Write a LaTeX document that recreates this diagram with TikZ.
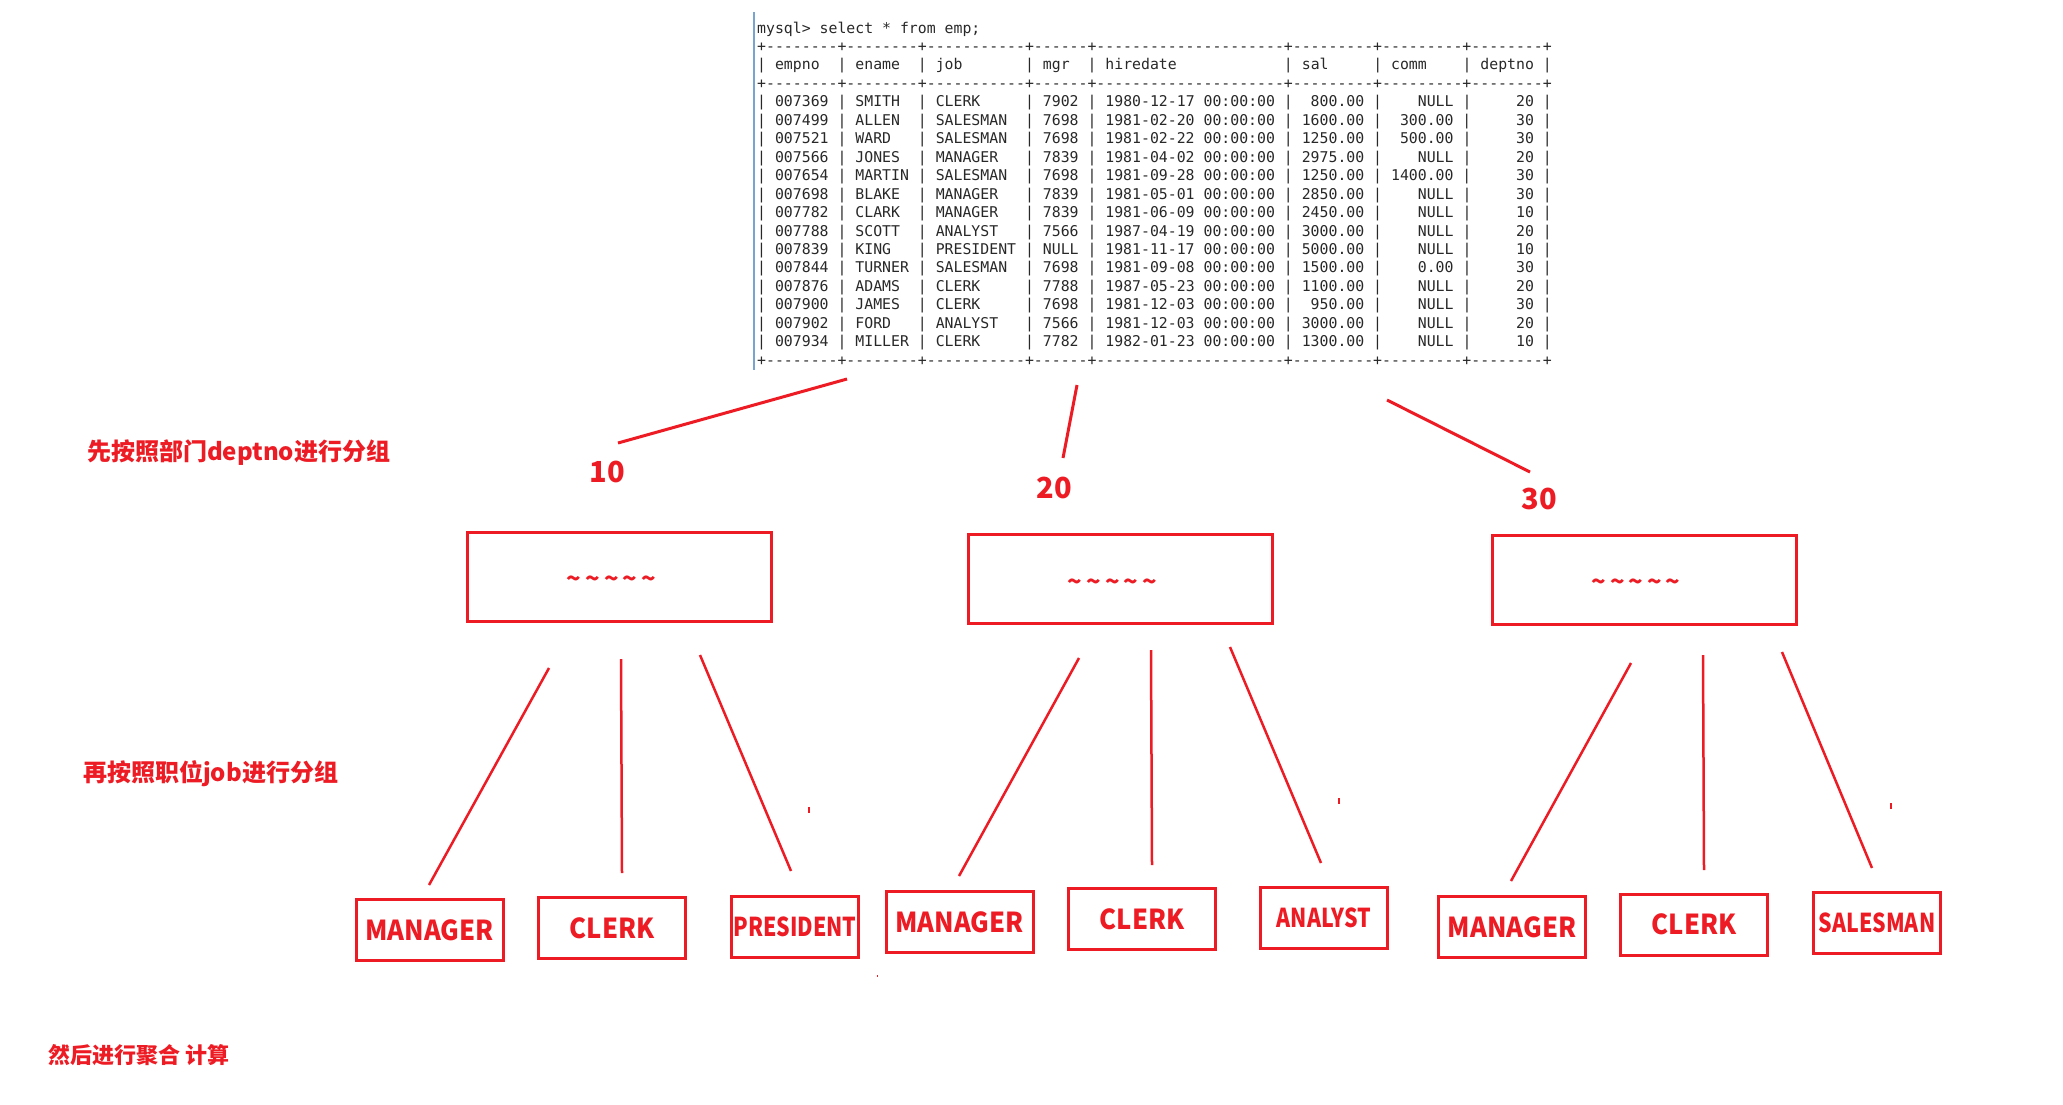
\documentclass[tikz,border=0pt]{standalone}
\usepackage{fontspec}
\setmonofont{DejaVu Sans Mono}
\newfontfamily\cjk{Noto Sans CJK SC}
\newfontfamily\jobfont{Noto Sans CJK SC}[FakeStretch=0.93]
\newfontfamily\jobnarrow{Noto Sans CJK SC}[FakeStretch=0.82]
\definecolor{gred}{RGB}{237,28,36}
\definecolor{tblue}{RGB}{120,165,205}
\definecolor{tgray}{RGB}{40,40,40}

% the query output, spaces kept as typed
\begingroup
\obeyspaces%
\gdef\sqlspace{\def {\ }}%
\gdef\emptable{%
mysql> select * from emp;\\%
+--------+--------+-----------+------+---------------------+---------+---------+--------+\\%
| empno  | ename  | job       | mgr  | hiredate            | sal     | comm    | deptno |\\%
+--------+--------+-----------+------+---------------------+---------+---------+--------+\\%
| 007369 | SMITH  | CLERK     | 7902 | 1980-12-17 00:00:00 |  800.00 |    NULL |     20 |\\%
| 007499 | ALLEN  | SALESMAN  | 7698 | 1981-02-20 00:00:00 | 1600.00 |  300.00 |     30 |\\%
| 007521 | WARD   | SALESMAN  | 7698 | 1981-02-22 00:00:00 | 1250.00 |  500.00 |     30 |\\%
| 007566 | JONES  | MANAGER   | 7839 | 1981-04-02 00:00:00 | 2975.00 |    NULL |     20 |\\%
| 007654 | MARTIN | SALESMAN  | 7698 | 1981-09-28 00:00:00 | 1250.00 | 1400.00 |     30 |\\%
| 007698 | BLAKE  | MANAGER   | 7839 | 1981-05-01 00:00:00 | 2850.00 |    NULL |     30 |\\%
| 007782 | CLARK  | MANAGER   | 7839 | 1981-06-09 00:00:00 | 2450.00 |    NULL |     10 |\\%
| 007788 | SCOTT  | ANALYST   | 7566 | 1987-04-19 00:00:00 | 3000.00 |    NULL |     20 |\\%
| 007839 | KING   | PRESIDENT | NULL | 1981-11-17 00:00:00 | 5000.00 |    NULL |     10 |\\%
| 007844 | TURNER | SALESMAN  | 7698 | 1981-09-08 00:00:00 | 1500.00 |    0.00 |     30 |\\%
| 007876 | ADAMS  | CLERK     | 7788 | 1987-05-23 00:00:00 | 1100.00 |    NULL |     20 |\\%
| 007900 | JAMES  | CLERK     | 7698 | 1981-12-03 00:00:00 |  950.00 |    NULL |     30 |\\%
| 007902 | FORD   | ANALYST   | 7566 | 1981-12-03 00:00:00 | 3000.00 |    NULL |     20 |\\%
| 007934 | MILLER | CLERK     | 7782 | 1982-01-23 00:00:00 | 1300.00 |    NULL |     10 |\\%
+--------+--------+-----------+------+---------------------+---------+---------+--------+%
}%
\endgroup

\newcommand\tildes{\raisebox{-11pt}[0pt][0pt]{\textasciitilde\kern4pt\textasciitilde\kern4pt\textasciitilde\kern4pt\textasciitilde\kern4pt\textasciitilde\kern16pt}}

\tikzset{
  sql text/.style={anchor=base west,inner sep=0pt,text=tgray,font=\ttfamily\fontsize{14.83}{18.46}\selectfont},
  dept edge/.style={gred,line width=3pt},
  job edge/.style={gred,line width=2.5pt},
  dept box/.style={draw=gred,line width=3pt,minimum width=304pt,minimum height=89pt,inner sep=0pt,text=gred,font=\cjk\bfseries\fontsize{24}{24}\selectfont},
  job box/.style={draw=gred,line width=3pt,minimum width=#1,minimum height=61pt,inner sep=0pt,text=gred,font=\jobfont\bfseries\fontsize{27.5}{27.5}\selectfont},
  job box/.default=147pt,
  narrow box/.style={job box=127pt,font=\jobnarrow\bfseries\fontsize{26}{26}\selectfont},
  num label/.style={anchor=base,inner sep=0pt,text=gred,font=\cjk\bfseries\fontsize{29}{29}\selectfont},
  step label/.style={anchor=base west,inner sep=0pt,text=gred,font=\cjk\bfseries\fontsize{24}{24}\selectfont},
}

\begin{document}
\begin{tikzpicture}[x=1pt,y=-1pt]
  \useasboundingbox (0,0) rectangle (2063,1104);
  % select * from emp
  \node[sql text] (emp) at (757,33) {\sqlspace\frenchspacing\begin{tabular}[t]{@{}l@{}}\emptable\end{tabular}};
  \draw[tblue,line width=1.5pt] (754,12) -- (754,370);
  % steps
  \node[step label] (step1) at (87,460) {先按照部门deptno进行分组};
  \node[step label] (step2) at (83,781) {再按照职位job进行分组};
  \node[step label,font=\cjk\bfseries\fontsize{22}{22}\selectfont] (step3) at (48,1063) {然后进行聚合 计算};
  % deptno groups
  \node[num label] (n10) at (607,482) {10};
  \node[num label] (n20) at (1054,498) {20};
  \node[num label] (n30) at (1539,509) {30};
  \node[dept box] (d10) at (619.5,576.5) {\tildes};
  \node[dept box] (d20) at (1120.5,579) {\tildes};
  \node[dept box] (d30) at (1644,579.5) {\tildes};
  \coordinate (t10) at (847,379);
  \coordinate (b10) at (618,443);
  \coordinate (t20) at (1077,385);
  \coordinate (b20) at (1063,458);
  \coordinate (t30) at (1387,400);
  \coordinate (b30) at (1530,472);
  \draw[dept edge] (t10)--(b10);
  \draw[dept edge] (t20)--(b20);
  \draw[dept edge] (t30)--(b30);
  % job groups
  \node[job box] (j10a) at (429.5,930) {MANAGER};
  \node[job box] (j10b) at (612,928) {CLERK};
  \node[narrow box] (j10c) at (795,926.5) {PRESIDENT};
  \node[job box] (j20a) at (959.5,922) {MANAGER};
  \node[job box] (j20b) at (1142,919) {CLERK};
  \node[narrow box] (j20c) at (1324,918) {ANALYST};
  \node[job box] (j30a) at (1512,927) {MANAGER};
  \node[job box] (j30b) at (1694,924.5) {CLERK};
  \node[narrow box] (j30c) at (1877,923) {SALESMAN};
  \coordinate (t10a) at (549,668);
  \coordinate (b10a) at (429,885);
  \coordinate (t10b) at (621,659);
  \coordinate (b10b) at (622,873);
  \coordinate (t10c) at (700,655);
  \coordinate (b10c) at (791,871);
  \coordinate (t20a) at (1079,658);
  \coordinate (b20a) at (959,876);
  \coordinate (t20b) at (1151,650);
  \coordinate (b20b) at (1152,865);
  \coordinate (t20c) at (1230,647);
  \coordinate (b20c) at (1321,863);
  \coordinate (t30a) at (1631,663);
  \coordinate (b30a) at (1511,881);
  \coordinate (t30b) at (1703,655);
  \coordinate (b30b) at (1704,870);
  \coordinate (t30c) at (1782,652);
  \coordinate (b30c) at (1872,868);
  \draw[job edge] (t10a)--(b10a);
  \draw[job edge] (t10b)--(b10b);
  \draw[job edge] (t10c)--(b10c);
  \draw[job edge] (t20a)--(b20a);
  \draw[job edge] (t20b)--(b20b);
  \draw[job edge] (t20c)--(b20c);
  \draw[job edge] (t30a)--(b30a);
  \draw[job edge] (t30b)--(b30b);
  \draw[job edge] (t30c)--(b30c);
  % stray marks
  \fill[gred] (808,807) rectangle (810,813);
  \fill[gred] (1338,798) rectangle (1340,804);
  \fill[gred] (1890,803) rectangle (1892,809);
  \fill[gred] (877,975) rectangle (878,977);
\end{tikzpicture}
\end{document}
